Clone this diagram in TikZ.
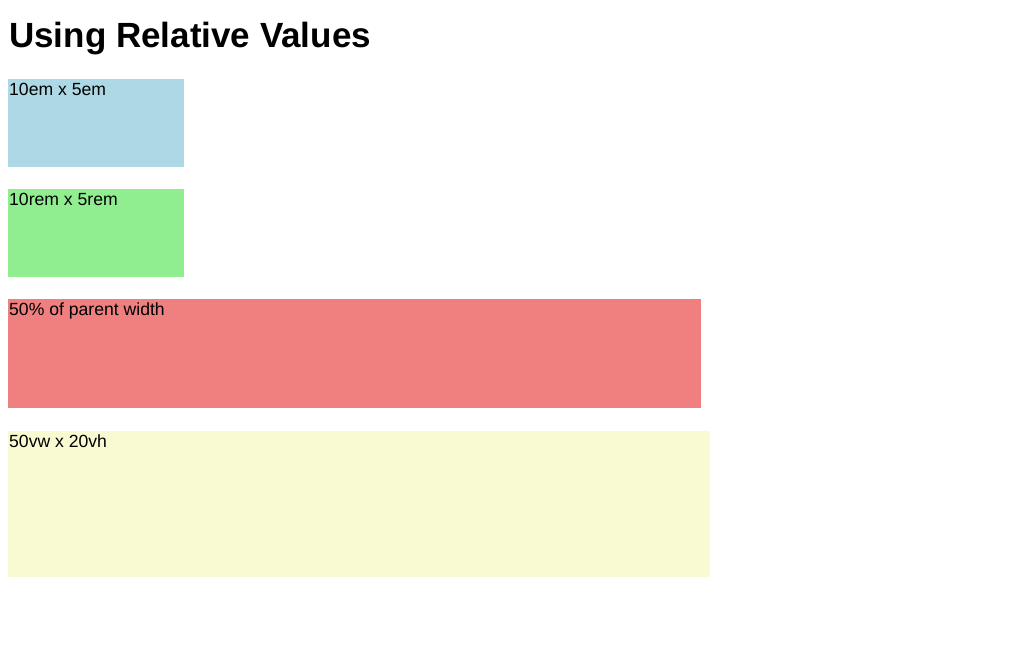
\documentclass[tikz,border=0pt]{standalone}
\usepackage{fontspec}
\setmainfont{Liberation Sans}
\usepackage{xcolor}
\usepackage{tikz}
\usetikzlibrary{positioning}
\definecolor{boxblue}{HTML}{ADD8E6}
\definecolor{boxgreen}{HTML}{90EE90}
\definecolor{boxred}{HTML}{F08080}
\definecolor{boxyellow}{HTML}{FAFAD2}
\tikzset{
  box/.style={draw=none,inner sep=0pt,outer sep=0pt,anchor=north west},
  lbl/.style={inner sep=0pt,anchor=base west,font=\fontsize{17.6}{20}\selectfont},
}
\begin{document}
\begin{tikzpicture}[x=1pt,y=-1pt]
\useasboundingbox(0,0)rectangle(1024,668);
\node[inner sep=0pt,anchor=base west,font=\fontsize{35}{40}\selectfont\bfseries](title)at(9,47.5){Using Relative Values};
\node[box,fill=boxblue,minimum width=176pt,minimum height=88pt](em)at(8,79){};
\node[box,fill=boxgreen,minimum width=176pt,minimum height=88pt](rem)at(8,189){};
\node[box,fill=boxred,minimum width=693pt,minimum height=109pt](pct)at(8,299){};
\node[box,fill=boxyellow,minimum width=702pt,minimum height=146pt](vw)at(8,431){};
\node[lbl](emtext)at([shift={(1pt,-16.5pt)}]em.north west){10em x 5em};
\node[lbl](remtext)at([shift={(1pt,-16.5pt)}]rem.north west){10rem x 5rem};
\node[lbl](pcttext)at([shift={(1pt,-16.5pt)}]pct.north west){50\% of parent width};
\node[lbl](vwtext)at([shift={(1pt,-16.5pt)}]vw.north west){50vw x 20vh};
\end{tikzpicture}
\end{document}
